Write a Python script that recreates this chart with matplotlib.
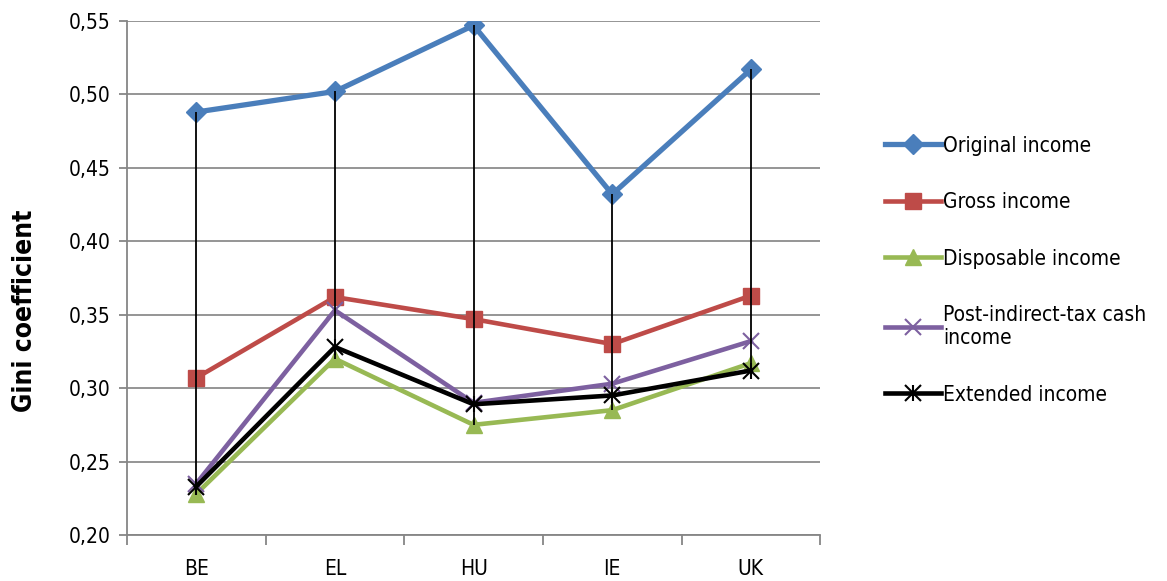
import numpy as np
import matplotlib.pyplot as plt
from matplotlib import font_manager
from matplotlib.ticker import FixedLocator, FuncFormatter

# Gini coefficients per country
countries = ['BE', 'EL', 'HU', 'IE', 'UK']
original = [0.488, 0.502, 0.547, 0.432, 0.517]
gross = [0.307, 0.362, 0.347, 0.330, 0.363]
disposable = [0.228, 0.320, 0.275, 0.285, 0.317]
post_tax = [0.235, 0.353, 0.290, 0.303, 0.332]
extended = [0.233, 0.328, 0.289, 0.295, 0.312]
series_names = ['Original income', 'Gross income', 'Disposable income',
                'Post-indirect-tax cash\nincome', 'Extended income']

# look for a narrow face, the reference uses a condensed font
narrow = None
for f in font_manager.fontManager.ttflist:
    if f.stretch in ('condensed', 'semi-condensed') or 'Narrow' in f.name or 'Condensed' in f.name:
        narrow = f
        break
if narrow is not None:
    plt.rcParams['font.family'] = [narrow.name, 'DejaVu Sans']
    plt.rcParams['font.stretch'] = narrow.stretch
    fs = 15
else:
    plt.rcParams['font.family'] = ['DejaVu Sans']
    fs = 13

fig = plt.figure(figsize=(11.67, 5.81), dpi=100)
ax = fig.add_axes([0.1088, 0.0792, 0.594, 0.8847])

x = np.arange(len(countries))
all_series = [original, gross, disposable, post_tax, extended]
styles = [
    dict(color='#4A7EBB', marker='D', markersize=10, lw=3.8),
    dict(color='#BE4B48', marker='s', markersize=11, lw=3.3),
    dict(color='#98B954', marker='^', markersize=12, lw=3.3),
    dict(color='#7D60A0', marker='x', markersize=12, lw=3.3, mew=1.5),
    dict(color='black', marker='x', markersize=12, lw=3.3, mew=1.5),
]
handles = []
for vals, name, st in zip(all_series, series_names, styles):
    ln, = ax.plot(x, vals, label=name, zorder=3, **st)
    handles.append(ln)
# star-like marker for extended income (x plus vertical bar)
bar, = ax.plot(x, extended, ls='none', marker='|', markersize=12, mew=1.5,
               color='black', zorder=3.5)
handles[-1] = (handles[-1], bar)

# high-low lines
data = np.array(all_series)
ax.vlines(x, data.min(axis=0), data.max(axis=0), color='black', lw=1.3, zorder=4)

ax.set_xlim(-0.5, len(countries) - 0.5)
ax.set_ylim(0.20, 0.55)
ax.set_yticks(np.arange(0.20, 0.551, 0.05))
ax.yaxis.set_major_formatter(FuncFormatter(lambda v, p: f'{v:.2f}'.replace('.', ',')))
ax.set_xticks(x)
ax.set_xticklabels(countries)
ax.xaxis.set_minor_locator(FixedLocator(np.arange(-0.5, len(countries), 1.0)))
ax.tick_params(axis='x', which='major', length=0, pad=17, labelsize=fs)
ax.tick_params(axis='x', which='minor', length=7, color='#868686', width=1.3)
ax.tick_params(axis='y', length=6, color='#868686', width=1.3, labelsize=fs, pad=6)

ax.grid(axis='y', color='#8C8C8C', lw=1.3, zorder=0)
ax.set_axisbelow(True)
for s in ['top', 'right']:
    ax.spines[s].set_visible(False)
for s in ['left', 'bottom']:
    ax.spines[s].set_color('#868686')
    ax.spines[s].set_linewidth(1.3)

ax.set_ylabel('Gini coefficient', fontsize=fs + 4, fontweight='bold')
ax.yaxis.set_label_coords(-0.128, 0.436)

ax.legend(handles, series_names, loc='center left', bbox_to_anchor=(1.066, 0.515),
          frameon=False, fontsize=fs, handlelength=2.7, handletextpad=0.1,
          labelspacing=1.75)

fig.savefig('out.png', dpi=100)
